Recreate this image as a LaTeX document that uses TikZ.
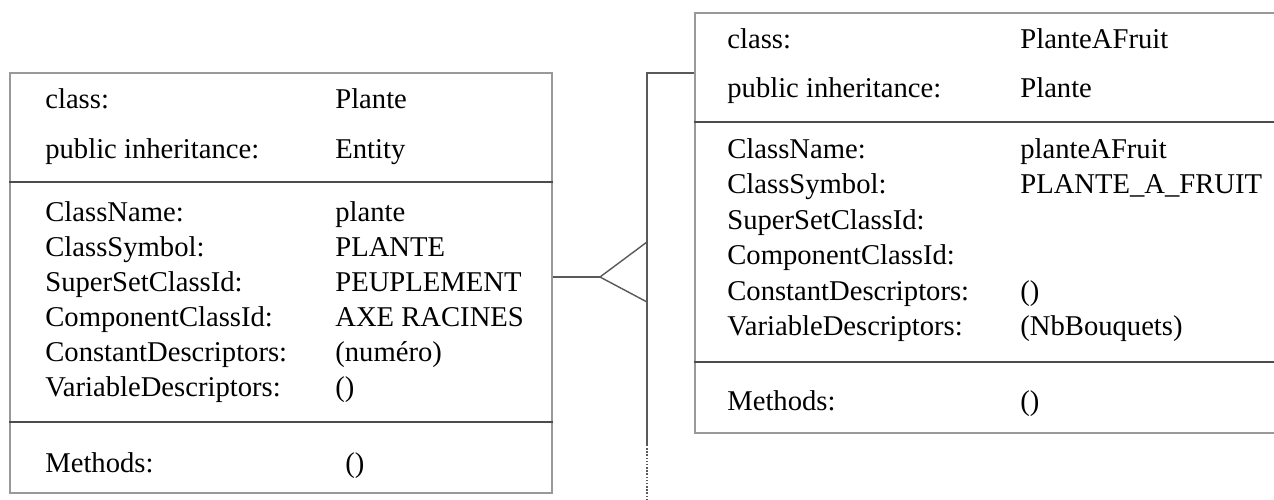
\documentclass[tikz,border=0pt]{standalone}
\usepackage{fontspec}
\setmainfont{Liberation Serif}
\begin{document}
\begin{tikzpicture}[x=0.02cm,y=-0.02cm,
  classbox/.style={draw=gray!80, line width=1.1pt, minimum height=8.4cm, inner sep=0pt},
  sep/.style={draw=gray!60!black, line width=1.1pt},
  link/.style={draw=gray!70!black, line width=0.8pt},
  lbl/.style={anchor=base west, inner sep=0pt, font=\fontsize{16.3}{19}\selectfont},
  val/.style={lbl}]
\useasboundingbox (0,0) rectangle (1274,500);
\clip (0,0) rectangle (1274,500);
% class Plante
\node[classbox, minimum width=10.84cm] (plante) at (281,283) {};
\draw[sep] (plante.west |- 0,182) -- (plante.east |- 0,182);
\draw[sep] (plante.west |- 0,422) -- (plante.east |- 0,422);
\node[lbl] (pcls) at (45,109) {class:};
\node[val] (pclsv) at (335,109) {Plante};
\node[lbl] (pinh) at (45,158) {public inheritance:};
\node[val] (pinhv) at (335,158) {Entity};
\node[lbl] (pname) at (45,221) {ClassName:};
\node[val] (pnamev) at (335,221) {plante};
\node[lbl] (psym) at (45,256) {ClassSymbol:};
\node[val] (psymv) at (335,256) {PLANTE};
\node[lbl] (psup) at (45,291) {SuperSetClassId:};
\node[val] (psupv) at (335,291) {PEUPLEMENT};
\node[lbl] (pcomp) at (45,326) {ComponentClassId:};
\node[val] (pcompv) at (335,326) {AXE RACINES};
\node[lbl] (pcst) at (45,361) {ConstantDescriptors:};
\node[val] (pcstv) at (335,361) {(numéro)};
\node[lbl] (pvar) at (45,396) {VariableDescriptors:};
\node[val] (pvarv) at (335,396) {()};
\node[lbl] (pmeth) at (45,472) {Methods:};
\node[val] (pmethv) at (345,472) {()};
% class PlanteAFruit, cut by the right edge
\node[classbox, minimum width=11.9cm] (fruit) at (992.5,223) {};
\draw[sep] (fruit.west |- 0,122) -- (fruit.east |- 0,122);
\draw[sep] (fruit.west |- 0,362) -- (fruit.east |- 0,362);
\node[lbl] (fcls) at (727,49) {class:};
\node[val] (fclsv) at (1020,49) {PlanteAFruit};
\node[lbl] (finh) at (727,98) {public inheritance:};
\node[val] (finhv) at (1020,98) {Plante};
\node[lbl] (fname) at (727,158) {ClassName:};
\node[val] (fnamev) at (1020,158) {planteAFruit};
\node[lbl] (fsym) at (727,193) {ClassSymbol:};
\node[val] (fsymv) at (1020,193) {PLANTE\_A\_FRUIT};
\node[lbl] (fsup) at (727,229) {SuperSetClassId:};
\node[lbl] (fcomp) at (727,264) {ComponentClassId:};
\node[lbl] (fcst) at (727,300) {ConstantDescriptors:};
\node[val] (fcstv) at (1020,300) {()};
\node[lbl] (fvar) at (727,335) {VariableDescriptors:};
\node[val] (fvarv) at (1020,335) {(NbBouquets)};
\node[lbl] (fmeth) at (727,410) {Methods:};
\node[val] (fmethv) at (1020,410) {()};
% inheritance link
\coordinate (tip) at (600,277);
\coordinate (barup) at (647,242);
\coordinate (barlow) at (647,302);
\coordinate (bartop) at (647,73);
\coordinate (barend) at (647,445);
\coordinate (barcut) at (647,500);
\draw[link] (plante.east |- tip) -- (tip);
\draw[link] (barup) -- (tip) -- (barlow);
\draw[link] (fruit.west |- bartop) -- (bartop) -- (barend);
\draw[link, densely dotted] (barend) -- (barcut);
\end{tikzpicture}
\end{document}
